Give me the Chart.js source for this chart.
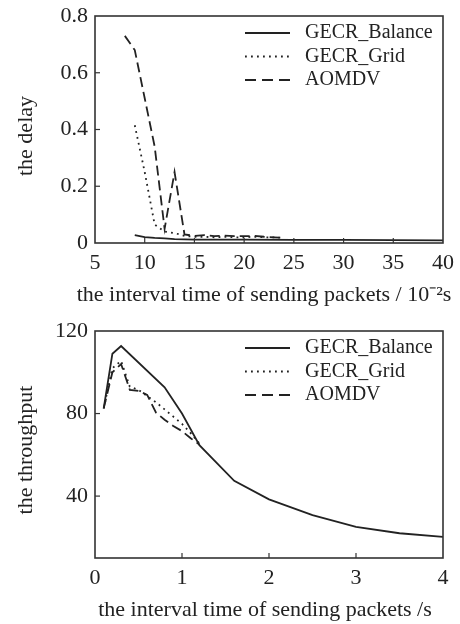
<!DOCTYPE html>
<html>
<head>
<meta charset="utf-8">
<script src="https://cdn.jsdelivr.net/npm/chart.js@4.4.1/dist/chart.umd.min.js"></script>
<style>
  html, body { margin: 0; padding: 0; background: #fff; }
  canvas { display: block; }
</style>
</head>
<body>
<canvas id="delayChart" width="460" height="310"></canvas>
<canvas id="throughputChart" width="460" height="314"></canvas>
<script>
/* delay + throughput line charts, paper-figure style */

const seriesNames = ['GECR_Balance', 'GECR_Grid', 'AOMDV'];

// top chart: delay vs interval (10^-2 s)
const balanceDelayX = [9, 10, 11, 12, 13, 14, 15, 20, 25, 30, 35, 40];
const balanceDelay = [0.028, 0.021, 0.018, 0.016, 0.014, 0.013, 0.012, 0.012, 0.011, 0.011, 0.010, 0.009];
const gridDelayX = [9, 10, 11, 12, 13, 14, 15, 16, 17, 18, 19, 20, 21, 22, 23, 24];
const gridDelay = [0.415, 0.25, 0.065, 0.04, 0.035, 0.025, 0.022, 0.022, 0.02, 0.022, 0.02, 0.02, 0.022, 0.02, 0.02, 0.018];
const aomdvDelayX = [8, 9, 10, 11, 12, 13, 14, 15, 16, 17, 18, 19, 20, 21, 22, 23, 24];
const aomdvDelay = [0.73, 0.68, 0.51, 0.34, 0.05, 0.25, 0.03, 0.025, 0.028, 0.024, 0.026, 0.024, 0.024, 0.025, 0.022, 0.02, 0.018];
const delayXTicks = [5, 10, 15, 20, 25, 30, 35, 40];
const delayYTicks = [0, 0.2, 0.4, 0.6, 0.8];

// bottom chart: throughput vs interval (s)
const balanceTpX = [0.1, 0.2, 0.3, 0.8, 1.0, 1.2, 1.6, 2.0, 2.5, 3.0, 3.5, 4.0];
const balanceTp = [82.5, 109, 112.7, 92.7, 80, 64.7, 47.4, 38.4, 30.8, 25.1, 22, 20.2];
const gridTpX = [0.1, 0.2, 0.3, 0.4, 0.5, 0.6, 0.7, 0.8, 0.9, 1.0, 1.1, 1.2];
const gridTp = [82.5, 102, 105.5, 93, 91.5, 88.5, 85.5, 82, 78.5, 75, 70.5, 65.5];
const aomdvTpX = [0.1, 0.2, 0.3, 0.4, 0.5, 0.6, 0.7, 0.8, 0.9, 1.0, 1.1, 1.2];
const aomdvTp = [82.5, 100, 104, 91.5, 91, 89, 80.5, 77, 74, 71.5, 68, 65];
const tpXTicks = [0, 1, 2, 3, 4];
const tpYTicks = [40, 80, 120];

const INK = '#222';
const SERIF = "'Liberation Serif', 'Times New Roman', serif";
Chart.defaults.font.family = SERIF;
Chart.defaults.color = INK;

const lineStyles = [
  { borderDash: [] , borderWidth: 1.8 },
  { borderDash: [1.8, 4.2], borderWidth: 1.8 },
  { borderDash: [10, 5], borderWidth: 1.8 }
];

function toPoints(xs, ys) {
  return xs.map((x, i) => ({ x, y: ys[i] }));
}

function makeDatasets(pairs) {
  return pairs.map((p, i) => ({
    label: seriesNames[i],
    data: toPoints(p[0], p[1]),
    borderColor: INK,
    borderWidth: lineStyles[i].borderWidth,
    borderDash: lineStyles[i].borderDash,
    pointRadius: 0,
    tension: 0,
    fill: false
  }));
}

// frame round the plot, inward tick marks, axis titles, legend inside the plot
const paperPlugin = {
  id: 'paper',
  afterDraw(chart, args, opts) {
    const { ctx, chartArea: a, scales } = chart;
    ctx.save();
    ctx.strokeStyle = '#333';
    ctx.lineWidth = 1.6;
    ctx.setLineDash([]);
    ctx.strokeRect(a.left, a.top, a.right - a.left, a.bottom - a.top);

    ctx.lineWidth = 1.2;
    scales.x.ticks.forEach(t => {
      const px = scales.x.getPixelForValue(t.value);
      if (px <= a.left + 2 || px >= a.right - 2) return;
      ctx.beginPath(); ctx.moveTo(px, a.bottom); ctx.lineTo(px, a.bottom - 5); ctx.stroke();
    });
    scales.y.ticks.forEach(t => {
      const py = scales.y.getPixelForValue(t.value);
      if (py <= a.top + 2 || py >= a.bottom - 2) return;
      ctx.beginPath(); ctx.moveTo(a.left, py); ctx.lineTo(a.left + 5, py); ctx.stroke();
    });

    // axis titles
    ctx.fillStyle = INK;
    ctx.textBaseline = 'middle';
    ctx.textAlign = 'center';
    ctx.font = '22px ' + SERIF;
    ctx.fillText(opts.xTitle.text, opts.xTitle.x, opts.xTitle.y);
    ctx.save();
    ctx.translate(opts.yTitle.x, opts.yTitle.y);
    ctx.rotate(-Math.PI / 2);
    ctx.fillText(opts.yTitle.text, 0, 0);
    ctx.restore();

    // legend
    ctx.font = '20px ' + SERIF;
    ctx.textAlign = 'left';
    chart.data.datasets.forEach((ds, i) => {
      const y = a.top + opts.legend.top + i * opts.legend.gap;
      ctx.strokeStyle = INK;
      ctx.lineWidth = ds.borderWidth;
      ctx.setLineDash(i === 2 ? [11, 6] : ds.borderDash);
      ctx.beginPath(); ctx.moveTo(opts.legend.left, y); ctx.lineTo(opts.legend.left + 45, y); ctx.stroke();
      ctx.setLineDash([]);
      ctx.fillText(ds.label, opts.legend.left + 60, y);
    });
    ctx.restore();
  }
};

function axisOpts(min, max, tickList, tickPad, fitSize, isX) {
  return {
    type: 'linear',
    min, max,
    afterBuildTicks: s => { s.ticks = tickList.map(v => ({ value: v })); },
    afterFit: s => {
      // fixed axis band; edge labels may hang into the layout padding
      if (isX) { s.height = fitSize; s.paddingLeft = 0; s.paddingRight = 0; }
      else { s.width = fitSize; s.paddingTop = 0; s.paddingBottom = 0; }
    },
    grid: { display: false, drawTicks: false },
    border: { display: false },
    ticks: { color: INK, padding: tickPad, font: { size: 22 }, maxRotation: 0, autoSkip: false },
    title: { display: false }
  };
}

new Chart(document.getElementById('delayChart'), {
  type: 'line',
  data: {
    datasets: makeDatasets([
      [balanceDelayX, balanceDelay],
      [gridDelayX, gridDelay],
      [aomdvDelayX, aomdvDelay]
    ])
  },
  options: {
    responsive: false,
    animation: false,
    layout: { padding: { top: 16, right: 17, left: 0, bottom: 0 } },
    scales: {
      x: axisOpts(5, 40, delayXTicks, 7, 67, true),
      y: axisOpts(0, 0.8, delayYTicks, 7, 95, false)
    },
    plugins: {
      legend: { display: false },
      tooltip: { enabled: false },
      paper: {
        xTitle: { text: 'the interval time of sending packets / 10\u207B\u00B2s', x: 264, y: 295 },
        yTitle: { text: 'the delay', x: 26, y: 136 },
        legend: { left: 245, top: 17, gap: 23.5 }
      }
    }
  },
  plugins: [paperPlugin]
});

new Chart(document.getElementById('throughputChart'), {
  type: 'line',
  data: {
    datasets: makeDatasets([
      [balanceTpX, balanceTp],
      [gridTpX, gridTp],
      [aomdvTpX, aomdvTp]
    ])
  },
  options: {
    responsive: false,
    animation: false,
    layout: { padding: { top: 21, right: 17, left: 0, bottom: 0 } },
    scales: {
      x: axisOpts(0, 4, tpXTicks, 7, 66, true),
      y: axisOpts(10, 120, tpYTicks, 7, 95, false)
    },
    plugins: {
      legend: { display: false },
      tooltip: { enabled: false },
      paper: {
        xTitle: { text: 'the interval time of sending packets /s', x: 265, y: 300 },
        yTitle: { text: 'the throughput', x: 26, y: 140 },
        legend: { left: 245, top: 17, gap: 23.5 }
      }
    }
  },
  plugins: [paperPlugin]
});
</script>
</body>
</html>
